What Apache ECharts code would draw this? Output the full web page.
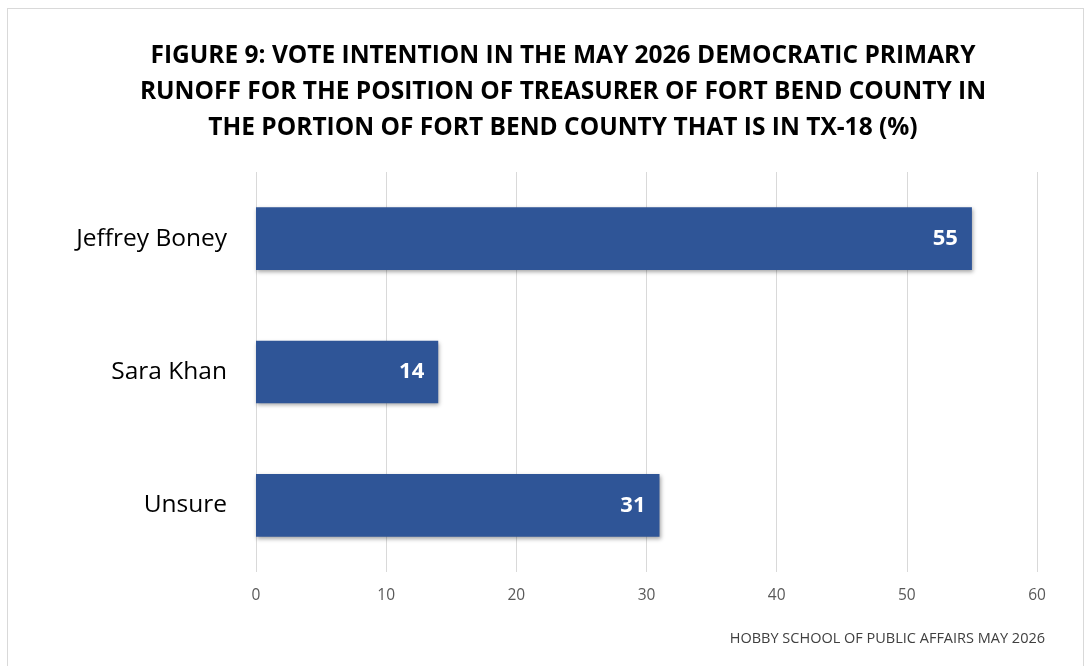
<!DOCTYPE html>
<html><head><meta charset="utf-8">
<script src="https://cdn.jsdelivr.net/npm/echarts@6/dist/echarts.min.js"></script>
<style>
html,body{margin:0;padding:0;background:#fff;}
#frame{position:absolute;left:7px;top:8px;width:1077px;height:670px;border:1px solid #d9d9d9;box-sizing:border-box;}
#c{position:absolute;left:0;top:0;width:1092px;height:666px;}
</style></head><body>
<div id="frame"></div>
<div id="c"></div>
<script>
const categories = ["Jeffrey Boney", "Sara Khan", "Unsure"];
const values = [55, 14, 31];
const titleLines = ["FIGURE 9: VOTE INTENTION IN THE MAY 2026 DEMOCRATIC PRIMARY", "RUNOFF FOR THE POSITION OF TREASURER OF FORT BEND COUNTY IN", "THE PORTION OF FORT BEND COUNTY THAT IS IN TX-18 (%)"];
const sourceText = "HOBBY SCHOOL OF PUBLIC AFFAIRS MAY 2026";

const chart = echarts.init(document.getElementById('c'), null, {renderer:'canvas'});
chart.setOption({
  animation:false,
  title:[{
    text: titleLines.join('\n'),
    left: 558, top: 33, textAlign:'center',
    textStyle:{fontFamily:'Open Sans', fontWeight:'bold', fontSize:24.5, lineHeight:36, color:'#000'}
  },{
    text: sourceText, right: 42, top: 626,
    textStyle:{fontFamily:'Open Sans', fontWeight:'normal', fontSize:14.5, color:'#404040'}
  }],
  grid:{left:256, right:55, top:172, height:400, containLabel:false},
  xAxis:{type:'value', min:0, max:60, interval:10,
    axisLine:{show:false}, axisTick:{show:false},
    splitLine:{lineStyle:{color:'#d9d9d9', width:1}},
    axisLabel:{fontFamily:'Open Sans', fontSize:15.5, color:'#595959', margin:16}
  },
  yAxis:{type:'category', data:categories, inverse:true,
    axisLine:{show:false}, axisTick:{show:false},
    axisLabel:{fontFamily:'Open Sans', fontSize:24.5, color:'#000', margin:29}
  },
  series:[{type:'bar', data:values, barCategoryGap:'53%',
    itemStyle:{color:'#2F5597', shadowColor:'rgba(0,0,0,0.35)', shadowBlur:4, shadowOffsetX:1, shadowOffsetY:2},
    label:{show:true, position:'insideRight', offset:[-9,0], fontFamily:'Open Sans', fontWeight:'bold', fontSize:22, color:'#fff'}
  }]
});
</script>
</body></html>
